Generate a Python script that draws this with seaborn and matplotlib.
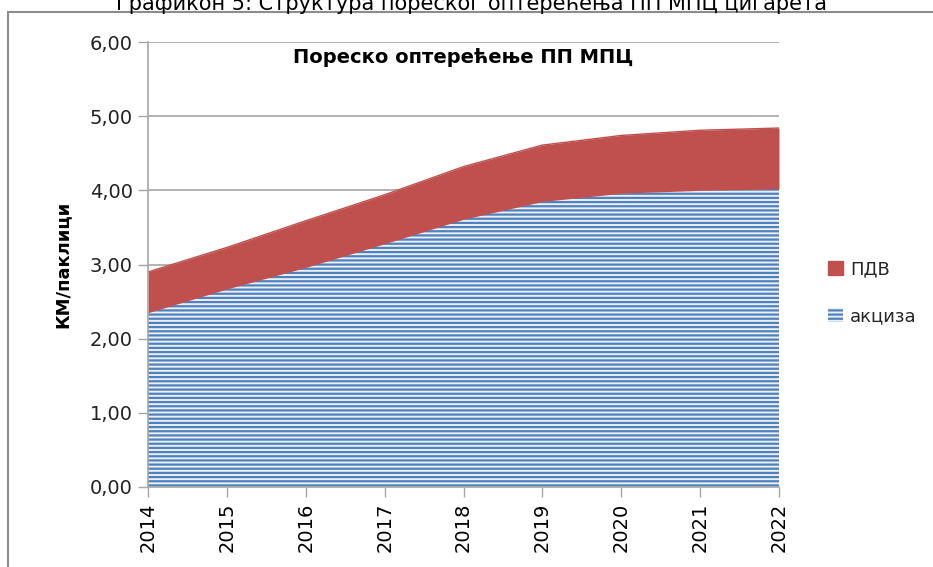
import matplotlib.pyplot as plt
import seaborn as sns
import pandas as pd
from matplotlib.patches import Patch, Rectangle

years = [2014, 2015, 2016, 2017, 2018, 2019, 2020, 2021, 2022]
akciza = [2.35, 2.67, 2.96, 3.28, 3.61, 3.85, 3.96, 4.00, 4.02]
pdv = [0.55, 0.56, 0.63, 0.66, 0.71, 0.76, 0.78, 0.81, 0.82]
y_ticks = [0, 1, 2, 3, 4, 5, 6]
y_labels = ['0,00', '1,00', '2,00', '3,00', '4,00', '5,00', '6,00']
series_names = ['акциза', 'ПДВ']

blue = '#4F81BD'
red = '#C0504D'
grey = '#A6A6A6'

df = pd.DataFrame({'year': years, 'akciza': akciza, 'pdv': pdv})
df['total'] = df['akciza'] + df['pdv']

sns.set_style('white')
plt.rcParams['font.family'] = ['DejaVu Sans']
plt.rcParams['hatch.linewidth'] = 1.6
plt.rcParams['hatch.color'] = blue

fig = plt.figure(figsize=(9.33, 5.67), dpi=100)
ax = fig.add_axes([148/933, 1-487/567, (779-148)/933, (487-42)/567])

# outer chart frame (cut by the screenshot)
fig.add_artist(Rectangle((8/933, -0.1), 1.2, 1-12/567+0.1, transform=fig.transFigure,
                         fill=False, edgecolor='#8C8C8C', lw=1.5))
fig.text(0.505, 1-4/567, 'Графикон 5: Структура пореског оптерећења ПП МПЦ цигарета',
         ha='center', va='center', fontsize=15, color='black')

for t in y_ticks[1:]:
    ax.axhline(t, color=grey, lw=1.2, zorder=0)

polys = ax.stackplot(df['year'], df['akciza'], df['pdv'],
                     colors=['#EAF0F8', red], zorder=2)
polys[0].set_hatch('----')
polys[0].set_edgecolor(blue)
polys[0].set_linewidth(0)
polys[1].set_linewidth(0)

sns.lineplot(data=df, x='year', y='total', color=red, lw=1, ax=ax, zorder=3)

ax.set_xlim(2014, 2022)
ax.set_ylim(0, 6)
ax.set_xticks(years)
ax.set_xticklabels([str(y) for y in years], rotation=90, fontsize=14, color='black')
ax.set_yticks(y_ticks)
ax.set_yticklabels(y_labels, fontsize=14, color='#222222')
ax.tick_params(axis='both', direction='out', length=7, width=1, color=grey,
               left=True, bottom=True, pad=4)
ax.set_xlabel('')
ax.set_ylabel('КМ/паклици', fontsize=13, fontweight='bold', labelpad=13, color='black')
for s in ['top', 'right']:
    ax.spines[s].set_visible(False)
for s in ['left', 'bottom']:
    ax.spines[s].set_color(grey)
    ax.spines[s].set_linewidth(1.2)
    ax.spines[s].set_zorder(4)

ax.text(0.5, 0.965, 'Пореско оптерећење ПП МПЦ', transform=ax.transAxes,
        ha='center', va='center', fontsize=14, fontweight='bold', color='black')

handles = [Patch(facecolor=red, edgecolor=red),
           Patch(facecolor='#EAF0F8', edgecolor=blue, hatch='----', lw=0)]
fig.legend(handles, [series_names[1], series_names[0]], loc='center left',
           bbox_to_anchor=(812/933, 1-293/567), frameon=False, fontsize=13,
           handlelength=0.8, handleheight=0.8, handletextpad=0.4, labelspacing=1.6)

fig.savefig('out.png', dpi=100)
